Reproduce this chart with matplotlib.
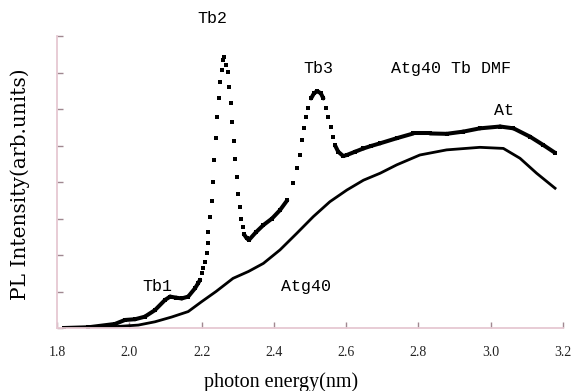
import matplotlib
matplotlib.use("Agg")
import matplotlib.pyplot as plt
from matplotlib.collections import LineCollection
import numpy as np

# Atg40 Tb DMF 曲线 (点状)
tb_x = [1.82, 1.887, 1.96, 1.988, 2.016, 2.043, 2.071, 2.099, 2.113, 2.13,
        2.145, 2.163, 2.182, 2.190, 2.196, 2.200, 2.205, 2.210, 2.214, 2.217,
        2.219, 2.223, 2.228, 2.231, 2.235, 2.239, 2.244, 2.248, 2.251, 2.256,
        2.260, 2.263, 2.267, 2.272, 2.277, 2.281, 2.285, 2.289, 2.293, 2.297,
        2.302, 2.306, 2.309, 2.314, 2.317, 2.325, 2.331, 2.35, 2.371, 2.395,
        2.417, 2.437, 2.454, 2.463, 2.472, 2.477, 2.483, 2.489, 2.495, 2.503,
        2.511, 2.520, 2.530, 2.537, 2.543, 2.551, 2.557, 2.563, 2.569, 2.578,
        2.592, 2.602, 2.625, 2.648, 2.67, 2.694, 2.740, 2.786, 2.832, 2.878,
        2.924, 2.970, 3.026, 3.063, 3.109, 3.146, 3.178]
tb_y = [0.0, 0.02, 0.11, 0.22, 0.24, 0.31, 0.49, 0.77, 0.86, 0.83,
        0.81, 0.86, 1.09, 1.22, 1.32, 1.50, 1.64, 1.82, 2.05, 2.32,
        2.64, 3.05, 3.48, 4.01, 4.60, 5.20, 5.77, 6.29, 6.75, 7.07,
        7.34, 7.42, 7.21, 7.01, 6.61, 6.17, 5.65, 5.13, 4.62, 4.13,
        3.67, 3.31, 2.99, 2.76, 2.57, 2.46, 2.41, 2.62, 2.82, 3.0,
        3.23, 3.50, 3.96, 4.38, 4.74, 5.15, 5.47, 5.77, 6.02, 6.29,
        6.43, 6.49, 6.43, 6.29, 6.02, 5.77, 5.52, 5.24, 5.01, 4.83,
        4.71, 4.74, 4.83, 4.92, 4.99, 5.06, 5.20, 5.33, 5.33, 5.32,
        5.38, 5.47, 5.52, 5.47, 5.24, 5.01, 4.80]

# Atg40 曲线
atg_x = [1.82, 1.88, 1.933, 1.98, 2.025, 2.071, 2.117, 2.163, 2.200, 2.240,
         2.287, 2.330, 2.371, 2.417, 2.463, 2.509, 2.555, 2.602, 2.648, 2.694,
         2.740, 2.804, 2.878, 2.970, 3.035, 3.081, 3.127, 3.178]
atg_y = [0.0, 0.01, 0.02, 0.05, 0.08, 0.17, 0.30, 0.45, 0.72, 1.0,
         1.36, 1.55, 1.77, 2.14, 2.59, 3.05, 3.46, 3.78, 4.05, 4.24,
         4.47, 4.74, 4.88, 4.95, 4.92, 4.65, 4.24, 3.83]

x_ticks = [1.8, 2.0, 2.2, 2.4, 2.6, 2.8, 3.0, 3.2]

fig = plt.figure(figsize=(5.71, 3.91), dpi=100)
ax = fig.add_axes([57 / 571, 63 / 391, 506 / 571, 292 / 391])
ax.set_xlim(1.8, 3.2)
ax.set_ylim(0, 8)

# 平缓部分连成粗线, 陡峭部分只显示点
pts = ax.transData.transform(np.column_stack([tb_x, tb_y]))
segs = []
for i in range(len(tb_x) - 1):
    dx = abs(pts[i + 1, 0] - pts[i, 0])
    dy = abs(pts[i + 1, 1] - pts[i, 1])
    if dx > 0 and dy / dx < 2.6:
        segs.append([(tb_x[i], tb_y[i]), (tb_x[i + 1], tb_y[i + 1])])
ax.add_collection(LineCollection(segs, colors="black", linewidths=2.9,
                                 capstyle="round"))
ax.plot(tb_x, tb_y, "s", color="black", ms=2.8, mew=0)

ax.plot(atg_x, atg_y, "-", color="black", lw=2.0)

# 坐标轴样式
for s in ["top", "right"]:
    ax.spines[s].set_visible(False)
for s in ["left", "bottom"]:
    ax.spines[s].set_color("#e6c8d2")
    ax.spines[s].set_linewidth(1.3)
ax.set_xticks(x_ticks)
ax.set_xticklabels(["%.1f" % v for v in x_ticks], fontfamily="Liberation Serif",
                   fontsize=10)
ax.set_yticks(range(0, 9))
ax.set_yticklabels([])
ax.tick_params(direction="in", length=4, width=1, color="#a08890",
               labelcolor="#222222")
ax.tick_params(axis="x", pad=13)

ax.set_xlabel("photon energy(nm)", fontfamily="Liberation Serif", fontsize=14.5)
ax.xaxis.set_label_coords(0.443, -0.15)
fig.text(20 / 571, (391 - 184) / 391, "PL Intensity(arb.units)",
         fontfamily="DejaVu Serif", fontsize=14.5, rotation=90,
         ha="center", va="center")

# 标注
font = dict(fontfamily="Liberation Mono", fontsize=12, ha="center", va="center")
ax.text(2.230, 8.49, "Tb2", **font)
ax.text(2.522, 7.12, "Tb3", **font)
ax.text(2.890, 7.10, "Atg40 Tb DMF", **font)
ax.text(3.037, 5.95, "At", **font)
ax.text(2.079, 1.15, "Tb1", **font)
ax.text(2.489, 1.15, "Atg40", **font)

plt.savefig("out.png", dpi=100)
